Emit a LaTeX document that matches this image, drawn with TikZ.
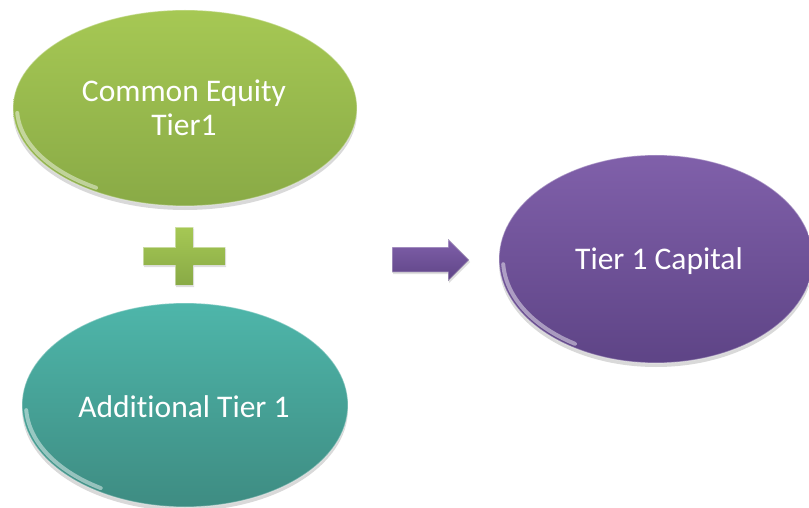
\documentclass[tikz,border=0pt]{standalone}
\usepackage{fontspec}
\setmainfont{Carlito}[Ligatures=NoCommon]
\usetikzlibrary{shadows,shapes.geometric}
\definecolor{gtop}{RGB}{166,200,84}
\definecolor{gbot}{RGB}{137,170,70}
\definecolor{ttop}{RGB}{78,182,170}
\definecolor{tbot}{RGB}{62,140,130}
\definecolor{ptop}{RGB}{128,96,170}
\definecolor{pbot}{RGB}{94,68,134}
\tikzset{
  blob/.style={ellipse, inner sep=0pt,
    draw=white, draw opacity=0.35, line width=1.2pt,
    drop shadow={shadow xshift=0pt, shadow yshift=-4pt, opacity=0.25, fill=black!60}},
  lbl/.style={anchor=base, inner sep=0pt, text=white, font=\fontsize{31.5}{37}\selectfont},
  shine/.style={draw=white, opacity=0.45, line width=4pt, line cap=round},
  bevel/.style={draw=white, draw opacity=0.45, line width=1pt},
}
\begin{document}
\begin{tikzpicture}[x=1pt,y=-1pt]
\useasboundingbox (0,0) rectangle (809,508);
% ellipses
\node[blob, minimum width=344pt, minimum height=196pt, top color=gtop, bottom color=gbot] (cet) at (185,108) {};
\node[blob, minimum width=326pt, minimum height=204pt, top color=ttop, bottom color=tbot] (at1) at (185,405) {};
\node[blob, minimum width=314pt, minimum height=208pt, top color=ptop, bottom color=pbot] (t1c) at (656,259) {};
% highlights
\draw[shine] plot[domain=183:238, smooth, variable=\t] ({185+168*cos(\t)}, {108-94*sin(\t)});
\draw[shine] plot[domain=183:238, smooth, variable=\t] ({185+159*cos(\t)}, {405-98*sin(\t)});
\draw[shine] plot[domain=183:238, smooth, variable=\t] ({656+153*cos(\t)}, {259-100*sin(\t)});
% labels
\node[lbl] (cet1) at (184,102) {Common Equity};
\node[lbl] (cet2) at (184,136) {Tier1};
\node[lbl] (at1l) at (184,417) {Additional Tier 1};
\node[lbl] (t1cl) at (659,269) {Tier 1 Capital};
% plus sign
\fill[top color=gtop, bottom color=gbot, bevel, drop shadow={shadow xshift=1pt, shadow yshift=-2pt, opacity=0.25}]
  (175,227) -- (193,227) -- (193,247) -- (225,247) -- (225,265) -- (193,265) -- (193,285) -- (175,285) -- (175,265) -- (143,265) -- (143,247) -- (175,247) -- cycle;
\node[inner sep=0pt, minimum size=0pt] (plus) at (184,256) {};
% arrow
\fill[top color=ptop, bottom color=pbot, bevel, drop shadow={shadow xshift=1pt, shadow yshift=-2pt, opacity=0.25}]
  (392,247) -- (448,247) -- (448,239) -- (469,260) -- (448,281) -- (448,272) -- (392,272) -- cycle;
\node[inner sep=0pt, minimum size=0pt] (arrow) at (430,260) {};
\end{tikzpicture}
\end{document}
